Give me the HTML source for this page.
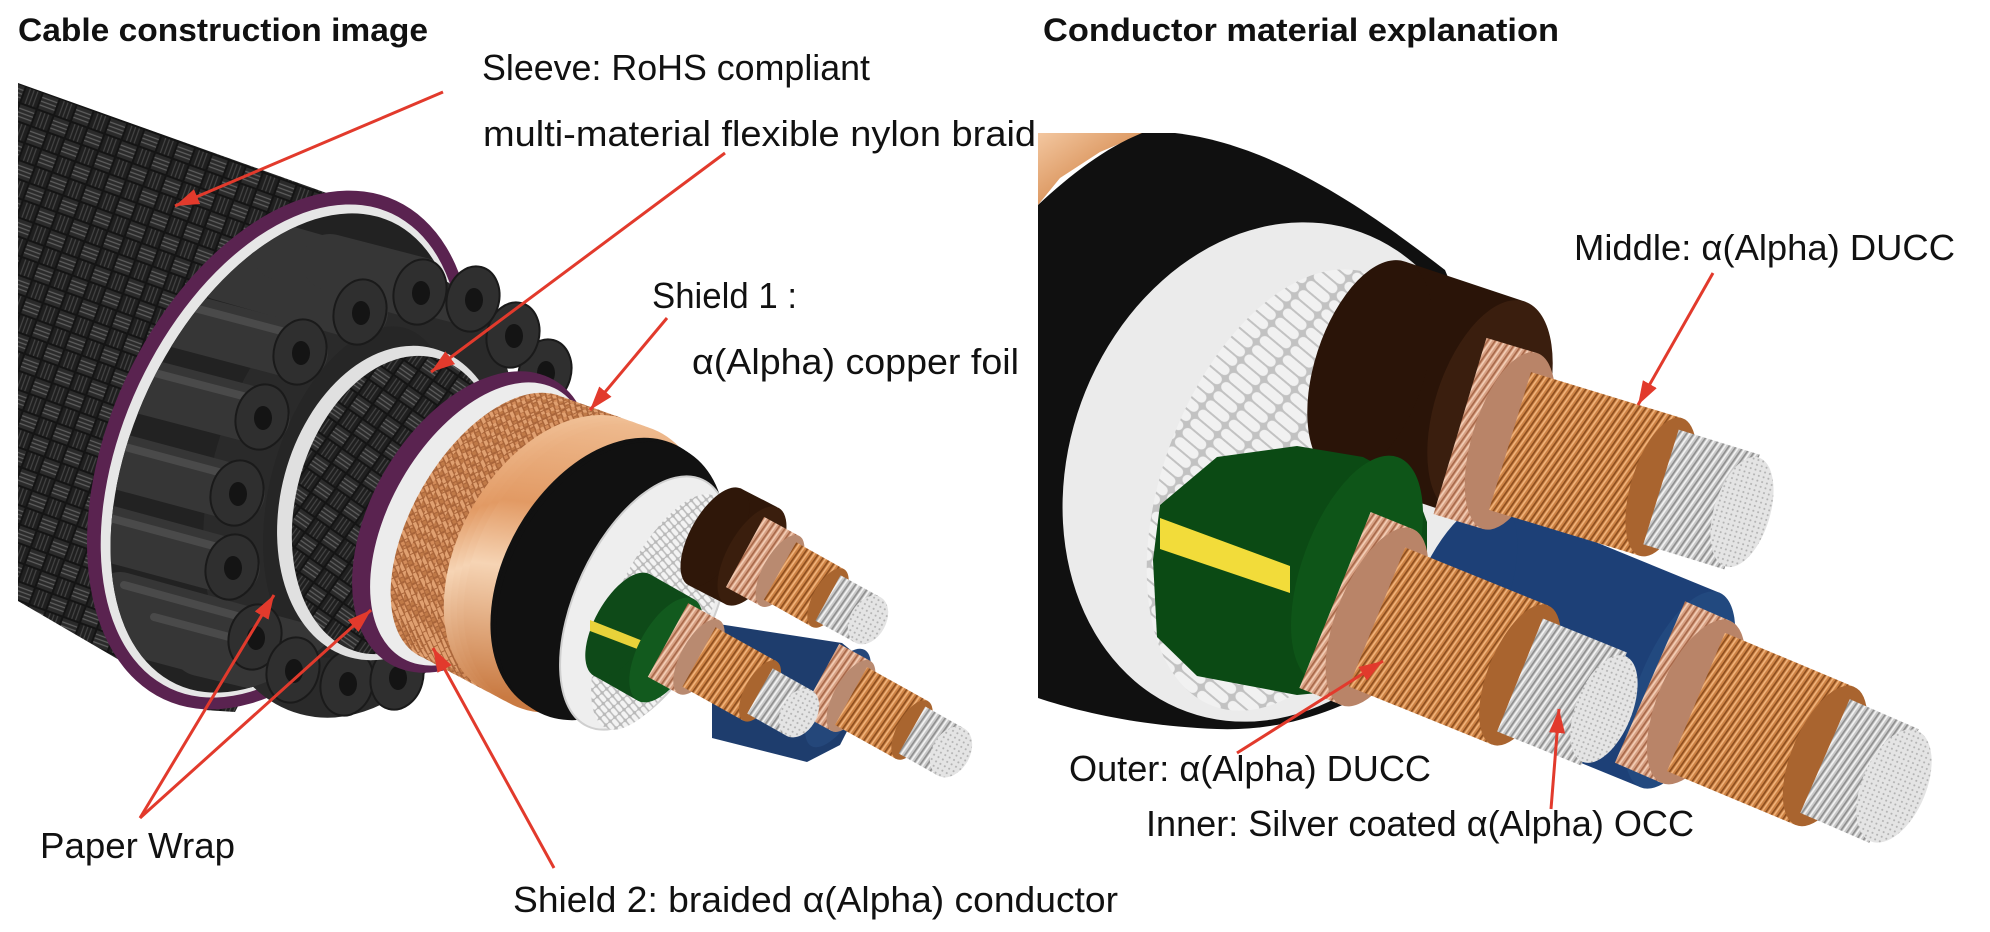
<!DOCTYPE html>
<html><head><meta charset="utf-8">
<style>
html,body{margin:0;padding:0;background:#fff;}
svg{display:block;}
text{font-family:"Liberation Sans","Noto Sans CJK SC",sans-serif;fill:#111;}
</style></head><body>
<svg width="1990" height="932" viewBox="0 0 1990 932" xmlns="http://www.w3.org/2000/svg">
<defs>
 <pattern id="braid" width="36" height="36" patternUnits="userSpaceOnUse" patternTransform="rotate(20)">
  <rect width="36" height="36" fill="#141414"/>
  <rect x="1" y="1" width="16" height="16" fill="#2a2a2a"/>
  <path d="M1 5H17M1 9H17M1 13H17" stroke="#5e5e5e" stroke-width="1.2"/>
  <rect x="19" y="19" width="16" height="16" fill="#2a2a2a"/>
  <path d="M19 23H35M19 27H35M19 31H35" stroke="#5e5e5e" stroke-width="1.2"/>
  <rect x="19" y="1" width="16" height="16" fill="#1f1f1f"/>
  <path d="M23 1V17M27 1V17M31 1V17" stroke="#444" stroke-width="1.2"/>
  <rect x="1" y="19" width="16" height="16" fill="#1f1f1f"/>
  <path d="M5 19V35M9 19V35M13 19V35" stroke="#444" stroke-width="1.2"/>
 </pattern>
 <pattern id="cbraid" width="10" height="10" patternUnits="userSpaceOnUse" patternTransform="rotate(35)">
  <rect width="10" height="10" fill="#a9653a"/>
  <rect x="0.5" y="0.5" width="9" height="3.5" fill="#e0a070"/>
  <rect x="1" y="5.5" width="3.5" height="3.5" fill="#d38c5a"/>
  <rect x="5.5" y="5.5" width="3.5" height="3.5" fill="#c07a48"/>
 </pattern>
 <linearGradient id="foilG" gradientUnits="userSpaceOnUse" x1="450" y1="420" x2="580" y2="720">
  <stop offset="0" stop-color="#f4c9a2"/><stop offset="0.4" stop-color="#e29a64"/>
  <stop offset="0.6" stop-color="#f6d4b4"/><stop offset="1" stop-color="#c97a42"/>
 </linearGradient>
 <linearGradient id="foilR" x1="0" y1="0" x2="1" y2="1">
  <stop offset="0" stop-color="#f3c7a0"/><stop offset="0.5" stop-color="#dd9a64"/><stop offset="1" stop-color="#f0c09a"/>
 </linearGradient>
 <pattern id="rodsL" width="9" height="6" patternUnits="userSpaceOnUse" patternTransform="rotate(25)">
  <rect width="9" height="6" fill="#b9b9b9"/>
  <rect x="0" y="0.8" width="8" height="4.4" rx="2" fill="#f3f3f3"/>
 </pattern>
 <pattern id="rodsR" width="30" height="12" patternUnits="userSpaceOnUse" patternTransform="rotate(20)">
  <rect width="30" height="12" fill="#c2c2c2"/>
  <rect x="0" y="1" width="28" height="10" rx="5" fill="#f1f1f1"/>
 </pattern>
 <pattern id="cuP" width="6" height="6" patternUnits="userSpaceOnUse" patternTransform="rotate(-55)">
  <rect width="6" height="6" fill="#d7a083"/>
  <rect y="0" width="6" height="1.6" fill="#f2ccb4"/>
  <rect y="3.5" width="6" height="1.6" fill="#a8694a"/>
 </pattern>
 <pattern id="cuO" width="6" height="6" patternUnits="userSpaceOnUse" patternTransform="rotate(-55)">
  <rect width="6" height="6" fill="#cd8244"/>
  <rect y="0" width="6" height="1.6" fill="#f0b27a"/>
  <rect y="3.5" width="6" height="1.6" fill="#8e4f1f"/>
 </pattern>
 <pattern id="ag" width="6" height="6" patternUnits="userSpaceOnUse" patternTransform="rotate(-55)">
  <rect width="6" height="6" fill="#c9c9c9"/>
  <rect y="0" width="6" height="1.6" fill="#f2f2f2"/>
  <rect y="3.5" width="6" height="1.6" fill="#8f8f8f"/>
 </pattern>
 <pattern id="agF" width="5" height="5" patternUnits="userSpaceOnUse">
  <rect width="5" height="5" fill="#e4e4e4"/><circle cx="2.5" cy="2.5" r="1" fill="#b0b0b0"/>
 </pattern>
 <clipPath id="clipE1"><ellipse cx="284" cy="453" rx="150" ry="255" transform="rotate(25 284 453)"/></clipPath>
 <clipPath id="clipR"><rect x="1038" y="133" width="952" height="799"/></clipPath>
 <marker id="ah" markerUnits="userSpaceOnUse" markerWidth="24" markerHeight="16" refX="24" refY="8" orient="auto">
  <path d="M0,0 L24,8 L0,16 Z" fill="#e23a2c" stroke="none"/>
 </marker>
</defs>

<rect width="1990" height="932" fill="#fff"/>

<!-- ================= LEFT IMAGE ================= -->
<g>
 <polygon points="18,83 335,196 335,520 235,712 205,710 18,601" fill="url(#braid)"/>
 <!-- outer purple ring -->
 <ellipse cx="280" cy="450" rx="170" ry="275" transform="rotate(25 280 450)" fill="#5a2350"/>
 <ellipse cx="281" cy="451" rx="157" ry="262" transform="rotate(25 281 451)" fill="#e6e6e6"/>
 <ellipse cx="284" cy="453" rx="150" ry="255" transform="rotate(25 284 453)" fill="#222"/>
 <!-- foam tubes ring -->
 <ellipse cx="360" cy="492" rx="120" ry="200" transform="rotate(15 360 492)" fill="#262626" stroke="#2a2a2a" stroke-width="60"/>
 <g clip-path="url(#clipE1)" stroke-linecap="round">
  <g stroke="#363636" stroke-width="56">
   <line x1="360" y1="312" x2="220" y2="272"/><line x1="420" y1="292" x2="280" y2="252"/><line x1="473" y1="299" x2="330" y2="262"/>
   <line x1="300" y1="352" x2="160" y2="315"/><line x1="262" y1="417" x2="120" y2="380"/><line x1="237" y1="493" x2="95" y2="455"/>
   <line x1="232" y1="567" x2="95" y2="530"/><line x1="255" y1="637" x2="120" y2="600"/><line x1="293" y1="670" x2="150" y2="632"/>
   <line x1="347" y1="683" x2="200" y2="648"/><line x1="397" y1="677" x2="260" y2="640"/>
  </g>
  <g stroke="#4a4a4a" stroke-width="8">
   <line x1="304" y1="337" x2="164" y2="300"/><line x1="266" y1="402" x2="124" y2="365"/><line x1="241" y1="478" x2="99" y2="440"/>
   <line x1="236" y1="552" x2="99" y2="515"/><line x1="259" y1="622" x2="124" y2="585"/><line x1="297" y1="655" x2="154" y2="617"/>
  </g>
 </g>
 <g fill="#2f2f2f" stroke="#1a1a1a" stroke-width="2">
  <ellipse cx="545" cy="372" rx="26" ry="33" transform="rotate(15 545 372)"/>
  <ellipse cx="513" cy="335" rx="26" ry="33" transform="rotate(15 513 335)"/>
  <ellipse cx="473" cy="299" rx="26" ry="33" transform="rotate(15 473 299)"/>
  <ellipse cx="420" cy="292" rx="26" ry="33" transform="rotate(15 420 292)"/>
  <ellipse cx="360" cy="312" rx="26" ry="33" transform="rotate(15 360 312)"/>
  <ellipse cx="300" cy="352" rx="26" ry="33" transform="rotate(15 300 352)"/>
  <ellipse cx="262" cy="417" rx="26" ry="33" transform="rotate(15 262 417)"/>
  <ellipse cx="237" cy="493" rx="26" ry="33" transform="rotate(15 237 493)"/>
  <ellipse cx="232" cy="567" rx="26" ry="33" transform="rotate(15 232 567)"/>
  <ellipse cx="255" cy="637" rx="26" ry="33" transform="rotate(15 255 637)"/>
  <ellipse cx="293" cy="670" rx="26" ry="33" transform="rotate(15 293 670)"/>
  <ellipse cx="347" cy="683" rx="26" ry="33" transform="rotate(15 347 683)"/>
  <ellipse cx="397" cy="677" rx="26" ry="33" transform="rotate(15 397 677)"/>
 </g>
 <g fill="#141414">
  <ellipse cx="546" cy="373" rx="9" ry="12"/><ellipse cx="514" cy="336" rx="9" ry="12"/>
  <ellipse cx="474" cy="300" rx="9" ry="12"/><ellipse cx="421" cy="293" rx="9" ry="12"/><ellipse cx="361" cy="313" rx="9" ry="12"/>
  <ellipse cx="301" cy="353" rx="9" ry="12"/><ellipse cx="263" cy="418" rx="9" ry="12"/><ellipse cx="238" cy="494" rx="9" ry="12"/>
  <ellipse cx="233" cy="568" rx="9" ry="12"/><ellipse cx="256" cy="638" rx="9" ry="12"/><ellipse cx="294" cy="671" rx="9" ry="12"/>
  <ellipse cx="348" cy="684" rx="9" ry="12"/><ellipse cx="398" cy="678" rx="9" ry="12"/>
 </g>
 <!-- inner paper wrap + inner braid -->
 <ellipse cx="392" cy="503" rx="111" ry="160" transform="rotate(15 392 503)" fill="#e0e0e0"/>
 <ellipse cx="397" cy="505" rx="101" ry="152" transform="rotate(15 397 505)" fill="url(#braid)"/>
 <!-- inner purple + paper -->
 <ellipse cx="472" cy="522" rx="101" ry="164" transform="rotate(30 472 522)" fill="#5a2350"/>
 <ellipse cx="480" cy="524" rx="90" ry="155" transform="rotate(30 480 524)" fill="#ececec"/>
 <!-- copper braid sweep -->
 <g fill="url(#cbraid)">
  <ellipse cx="492" cy="527" rx="80" ry="148" transform="rotate(30 492 527)"/>
  <ellipse cx="500.5" cy="530.7" rx="82.5" ry="148.6" transform="rotate(30 500.5 530.7)"/>
  <ellipse cx="508.9" cy="534.5" rx="85.1" ry="149.3" transform="rotate(30 508.9 534.5)"/>
  <ellipse cx="517.4" cy="538.2" rx="87.6" ry="149.9" transform="rotate(30 517.4 538.2)"/>
  <ellipse cx="525.8" cy="541.9" rx="90.2" ry="150.5" transform="rotate(30 525.8 541.9)"/>
  <ellipse cx="534.3" cy="545.6" rx="92.7" ry="151.2" transform="rotate(30 534.3 545.6)"/>
  <ellipse cx="542.7" cy="549.4" rx="95.3" ry="151.8" transform="rotate(30 542.7 549.4)"/>
  <ellipse cx="551.2" cy="553.1" rx="97.8" ry="152.5" transform="rotate(30 551.2 553.1)"/>
 </g>
 <g fill="url(#foilG)">
  <ellipse cx="559.6" cy="556.8" rx="100.4" ry="153.1" transform="rotate(30 559.6 556.8)"/>
  <ellipse cx="568.1" cy="560.5" rx="102.9" ry="153.7" transform="rotate(30 568.1 560.5)"/>
  <ellipse cx="576.5" cy="564.3" rx="105.5" ry="154.4" transform="rotate(30 576.5 564.3)"/>
  <ellipse cx="585" cy="568" rx="108" ry="155" transform="rotate(30 585 568)"/>
 </g>
 <!-- black jacket -->
 <g fill="#111">
  <ellipse cx="605" cy="577" rx="100" ry="150" transform="rotate(30 605 577)"/>
  <ellipse cx="608" cy="579" rx="100" ry="150" transform="rotate(30 608 579)"/>
  <ellipse cx="611" cy="581" rx="100" ry="150" transform="rotate(30 611 581)"/>
 </g>
 <ellipse cx="645" cy="603" rx="69" ry="136" transform="rotate(25 645 603)" fill="#eeeeee" stroke="#cfcfcf" stroke-width="2"/>
 <ellipse cx="660" cy="612" rx="47" ry="128" transform="rotate(25 660 612)" fill="url(#rodsL)"/>
 <!-- blue jacket -->
 <polygon points="712,623 842,643 863,660 863,700 840,745 807,762 712,738" fill="#1e3d6d"/>
 <ellipse cx="838" cy="698" rx="22" ry="55" transform="rotate(29 838 698)" fill="#24477a"/>
 <!-- brown jacket -->
 <line x1="715" y1="537" x2="752" y2="556" stroke="#2f1709" stroke-width="110"/>
 <ellipse cx="715" cy="537" rx="25" ry="55" transform="rotate(29 715 537)" fill="#2f1709"/>
 <ellipse cx="752" cy="556" rx="25" ry="55" transform="rotate(29 752 556)" fill="#3a1e0d"/>
 <!-- brown conductor -->
 <line x1="745" y1="552" x2="780" y2="571" stroke="url(#cuP)" stroke-width="80"/>
 <ellipse cx="780" cy="571" rx="17" ry="40" transform="rotate(29 780 571)" fill="#b98a70"/>
 <line x1="780" y1="571" x2="828" y2="598" stroke="url(#cuO)" stroke-width="66"/>
 <ellipse cx="828" cy="598" rx="15" ry="33" transform="rotate(29 828 598)" fill="#a9652f"/>
 <line x1="828" y1="598" x2="868" y2="620" stroke="url(#ag)" stroke-width="52"/>
 <ellipse cx="868" cy="620" rx="18" ry="26" transform="rotate(29 868 620)" fill="url(#agF)"/>
 <!-- blue conductor -->
 <line x1="820" y1="679" x2="851" y2="696" stroke="url(#cuP)" stroke-width="80"/>
 <ellipse cx="851" cy="696" rx="17" ry="40" transform="rotate(29 851 696)" fill="#b98a70"/>
 <line x1="851" y1="696" x2="912" y2="730" stroke="url(#cuO)" stroke-width="66"/>
 <ellipse cx="912" cy="730" rx="15" ry="33" transform="rotate(29 912 730)" fill="#a9652f"/>
 <line x1="912" y1="730" x2="951" y2="752" stroke="url(#ag)" stroke-width="54"/>
 <ellipse cx="951" cy="752" rx="19" ry="27" transform="rotate(29 951 752)" fill="url(#agF)"/>
 <!-- green jacket -->
 <line x1="622" y1="625" x2="666" y2="650" stroke="#0e4a18" stroke-width="116"/>
 <ellipse cx="622" cy="625" rx="27" ry="58" transform="rotate(29 622 625)" fill="#0e4a18"/>
 <polygon points="590,620 648,643 648,653 590,631" fill="#e8d23a"/>
 <ellipse cx="666" cy="650" rx="27" ry="58" transform="rotate(29 666 650)" fill="#125a1e"/>
 <!-- green conductor -->
 <line x1="668" y1="640" x2="699" y2="657" stroke="url(#cuP)" stroke-width="84"/>
 <ellipse cx="699" cy="657" rx="18" ry="42" transform="rotate(29 699 657)" fill="#b98a70"/>
 <line x1="699" y1="657" x2="760" y2="691" stroke="url(#cuO)" stroke-width="68"/>
 <ellipse cx="760" cy="691" rx="15" ry="34" transform="rotate(29 760 691)" fill="#a9652f"/>
 <line x1="760" y1="691" x2="799" y2="713" stroke="url(#ag)" stroke-width="52"/>
 <ellipse cx="799" cy="713" rx="18" ry="26" transform="rotate(29 799 713)" fill="url(#agF)"/>
</g>

<!-- ================= RIGHT IMAGE ================= -->
<g clip-path="url(#clipR)">
 <polygon points="1038,133 1145,133 1100,152 1060,178 1038,205" fill="url(#foilR)"/>
 <path d="M1038,205 C1070,175 1105,148 1142,133 L1175,133 C1280,145 1380,220 1445,270 L1470,330 L1470,620 C1380,700 1300,732 1217,729 C1140,726 1080,712 1038,698 Z" fill="#101010"/>
 <ellipse cx="1274" cy="472" rx="205" ry="255" transform="rotate(20 1274 472)" fill="#ebebeb"/>
 <ellipse cx="1292" cy="490" rx="130" ry="230" transform="rotate(20 1292 490)" fill="url(#rodsR)"/>
 <!-- blue jacket -->
 <line x1="1460" y1="600" x2="1680" y2="690" stroke="#1d4077" stroke-width="210"/>
 <ellipse cx="1460" cy="600" rx="45" ry="105" transform="rotate(22 1460 600)" fill="#1d4077"/>
 <ellipse cx="1680" cy="690" rx="42" ry="105" transform="rotate(22 1680 690)" fill="#22497f"/>
 <!-- brown jacket -->
 <line x1="1370" y1="368" x2="1490" y2="408" stroke="#2a1408" stroke-width="224"/>
 <ellipse cx="1370" cy="368" rx="55" ry="112" transform="rotate(18 1370 368)" fill="#2a1408"/>
 <ellipse cx="1490" cy="408" rx="55" ry="112" transform="rotate(18 1490 408)" fill="#3a1e0e"/>
 <!-- brown conductor -->
 <line x1="1460" y1="426" x2="1510" y2="441" stroke="url(#cuP)" stroke-width="184"/>
 <ellipse cx="1510" cy="441" rx="38" ry="92" transform="rotate(17 1510 441)" fill="#b98468"/>
 <line x1="1510" y1="441" x2="1661" y2="487" stroke="url(#cuO)" stroke-width="144"/>
 <ellipse cx="1661" cy="487" rx="30" ry="72" transform="rotate(17 1661 487)" fill="#a9642f"/>
 <line x1="1661" y1="487" x2="1742" y2="512" stroke="url(#ag)" stroke-width="120"/>
 <ellipse cx="1742" cy="512" rx="28" ry="57" transform="rotate(17 1742 512)" fill="url(#agF)"/>
 <!-- blue conductor -->
 <line x1="1650" y1="682" x2="1696" y2="702" stroke="url(#cuP)" stroke-width="176"/>
 <ellipse cx="1696" cy="702" rx="38" ry="88" transform="rotate(23 1696 702)" fill="#b98468"/>
 <line x1="1696" y1="702" x2="1825" y2="756" stroke="url(#cuO)" stroke-width="150"/>
 <ellipse cx="1825" cy="756" rx="33" ry="75" transform="rotate(23 1825 756)" fill="#a9642f"/>
 <line x1="1825" y1="756" x2="1894" y2="786" stroke="url(#ag)" stroke-width="124"/>
 <ellipse cx="1894" cy="786" rx="32" ry="60" transform="rotate(23 1894 786)" fill="url(#agF)"/>
 <!-- green jacket -->
 <polygon points="1157,637 1153,560 1160,505 1217,457 1297,446 1363,457 1413,484 1427,522 1427,618 1380,687 1297,695 1197,676" fill="#0b4a14"/>
 <polygon points="1160,518 1290,566 1290,593 1160,549" fill="#f2dc3a"/>
 <ellipse cx="1357" cy="570" rx="55" ry="120" transform="rotate(20 1357 570)" fill="#0e5518"/>
 <!-- green conductor -->
 <line x1="1335" y1="600" x2="1377" y2="617" stroke="url(#cuP)" stroke-width="190"/>
 <ellipse cx="1377" cy="617" rx="40" ry="95" transform="rotate(22 1377 617)" fill="#b98468"/>
 <line x1="1377" y1="617" x2="1520" y2="675" stroke="url(#cuO)" stroke-width="150"/>
 <ellipse cx="1520" cy="675" rx="32" ry="75" transform="rotate(22 1520 675)" fill="#a9642f"/>
 <line x1="1520" y1="675" x2="1604" y2="709" stroke="url(#ag)" stroke-width="122"/>
 <ellipse cx="1604" cy="709" rx="28" ry="57" transform="rotate(22 1604 709)" fill="url(#agF)"/>
</g>

<!-- ================= TEXT ================= -->
<text x="18" y="41" font-size="32" font-weight="bold" fill="#000" textLength="410" lengthAdjust="spacingAndGlyphs">Cable construction image</text>
<text x="1043" y="41" font-size="32" font-weight="bold" fill="#000" textLength="516" lengthAdjust="spacingAndGlyphs">Conductor material explanation</text>
<text x="482" y="80" font-size="36" textLength="388" lengthAdjust="spacingAndGlyphs">Sleeve: RoHS compliant</text>
<text x="483" y="146" font-size="36" textLength="553" lengthAdjust="spacingAndGlyphs">multi-material flexible nylon braid</text>
<text x="652" y="308" font-size="36" textLength="145" lengthAdjust="spacingAndGlyphs">Shield 1 :</text>
<text x="692" y="374" font-size="36" textLength="327" lengthAdjust="spacingAndGlyphs">α(Alpha) copper foil</text>
<text x="40" y="858" font-size="36" textLength="195" lengthAdjust="spacingAndGlyphs">Paper Wrap</text>
<text x="513" y="912" font-size="36" textLength="605" lengthAdjust="spacingAndGlyphs">Shield 2: braided α(Alpha) conductor</text>
<text x="1574" y="260" font-size="36" textLength="381" lengthAdjust="spacingAndGlyphs">Middle: α(Alpha) DUCC</text>
<text x="1069" y="781" font-size="36" textLength="362" lengthAdjust="spacingAndGlyphs">Outer: α(Alpha) DUCC</text>
<text x="1146" y="836" font-size="36" textLength="548" lengthAdjust="spacingAndGlyphs">Inner: Silver coated α(Alpha) OCC</text>

<!-- ================= ARROWS ================= -->
<g stroke="#e23a2c" stroke-width="3" fill="none" marker-end="url(#ah)">
 <line x1="443" y1="92" x2="175" y2="206"/>
 <line x1="725" y1="153" x2="431" y2="372"/>
 <line x1="667" y1="318" x2="590" y2="410"/>
 <line x1="140" y1="818" x2="274" y2="595"/>
 <line x1="140" y1="818" x2="371" y2="610"/>
 <line x1="554" y1="868" x2="433" y2="648"/>
 <line x1="1713" y1="273" x2="1638" y2="405"/>
 <line x1="1237" y1="753" x2="1383" y2="661"/>
 <line x1="1551" y1="809" x2="1559" y2="709"/>
</g>
</svg>
</body></html>
